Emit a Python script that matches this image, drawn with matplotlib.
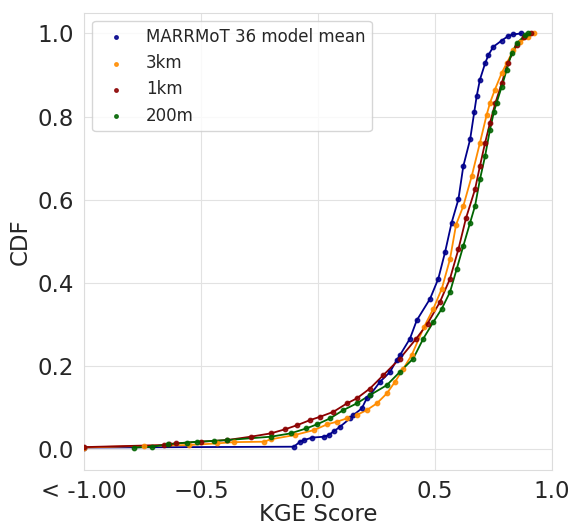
import numpy as np
import matplotlib
matplotlib.use('Agg')
import matplotlib.pyplot as plt
import seaborn as sns

sns.set_style('whitegrid', {'grid.color': '#e2e2e2', 'axes.edgecolor': '#dcdcdc'})
plt.rcParams['font.family'] = ['DejaVu Sans']

# KGE values (values below -1 shown at -1) and their CDF levels
mean_kge = [-1.0, -0.103, -0.077, -0.060, -0.024, 0.026, 0.045, 0.070, 0.094, 0.137, 0.151,
            0.187, 0.208, 0.222, 0.265, 0.308, 0.336, 0.350, 0.393, 0.422, 0.479, 0.514,
            0.543, 0.571, 0.600, 0.621, 0.650, 0.668, 0.678, 0.692, 0.714, 0.728, 0.749,
            0.785, 0.813, 0.835, 0.869]
mean_cdf = [0.004, 0.006, 0.018, 0.022, 0.028, 0.030, 0.034, 0.044, 0.054, 0.074, 0.082,
            0.098, 0.122, 0.130, 0.162, 0.186, 0.214, 0.226, 0.266, 0.310, 0.362, 0.410,
            0.474, 0.545, 0.601, 0.681, 0.745, 0.812, 0.849, 0.889, 0.928, 0.948, 0.968,
            0.983, 0.994, 0.998, 1.0]

km3_kge = [-1.0, -0.744, -0.55, -0.43, -0.359, -0.231, -0.20, -0.10, -0.017, 0.04, 0.08,
           0.123, 0.165, 0.208, 0.251, 0.294, 0.329, 0.365, 0.400, 0.453, 0.493, 0.529,
           0.564, 0.590, 0.621, 0.657, 0.692, 0.721, 0.735, 0.756, 0.785, 0.806, 0.835,
           0.863, 0.899, 0.921]
km3_cdf = [0.004, 0.008, 0.010, 0.014, 0.017, 0.018, 0.024, 0.034, 0.046, 0.060, 0.066,
           0.074, 0.082, 0.094, 0.110, 0.134, 0.162, 0.194, 0.226, 0.294, 0.338, 0.386,
           0.457, 0.540, 0.585, 0.657, 0.737, 0.805, 0.833, 0.865, 0.905, 0.928, 0.960,
           0.980, 0.992, 1.0]

km1_kge = [-1.0, -0.658, -0.637, -0.608, -0.50, -0.388, -0.288, -0.202, -0.14, -0.088,
           -0.034, 0.009, 0.066, 0.123, 0.165, 0.222, 0.279, 0.350, 0.420, 0.468, 0.521,
           0.564, 0.600, 0.632, 0.671, 0.692, 0.714, 0.735, 0.758, 0.785, 0.810, 0.849,
           0.880, 0.910]
km1_cdf = [0.005, 0.010, 0.012, 0.014, 0.018, 0.022, 0.030, 0.038, 0.048, 0.058,
           0.070, 0.078, 0.090, 0.110, 0.122, 0.146, 0.178, 0.218, 0.266, 0.302, 0.354,
           0.410, 0.481, 0.555, 0.625, 0.681, 0.737, 0.785, 0.833, 0.880, 0.928, 0.972,
           0.992, 1.0]

m200_kge = [-0.786, -0.708, -0.64, -0.559, -0.516, -0.444, -0.388, -0.202, -0.117, -0.05,
            -0.003, 0.051, 0.108, 0.165, 0.222, 0.294, 0.350, 0.407, 0.450, 0.493, 0.529,
            0.564, 0.593, 0.621, 0.650, 0.671, 0.692, 0.714, 0.735, 0.752, 0.763, 0.785,
            0.806, 0.827, 0.849, 0.885, 0.899]
m200_cdf = [0.004, 0.006, 0.012, 0.016, 0.018, 0.020, 0.022, 0.030, 0.038, 0.050,
            0.060, 0.074, 0.094, 0.110, 0.130, 0.154, 0.186, 0.218, 0.266, 0.306, 0.338,
            0.378, 0.434, 0.489, 0.545, 0.585, 0.649, 0.705, 0.769, 0.812, 0.833, 0.872,
            0.912, 0.952, 0.976, 0.996, 1.0]

series = [
    ('MARRMoT 36 model mean', mean_kge, mean_cdf, 'darkblue'),
    ('3km', km3_kge, km3_cdf, 'darkorange'),
    ('1km', km1_kge, km1_cdf, 'darkred'),
    ('200m', m200_kge, m200_cdf, 'darkgreen'),
]

fig = plt.figure(figsize=(5.74, 5.25), dpi=100)
ax = fig.add_axes([0.1463, 0.1048, 0.8154, 0.871])

for name, x, y, c in series:
    ax.plot(x, y, color=c, linewidth=1.3)
    ax.scatter(x, y, s=10, color=c, label=name, zorder=3, alpha=0.85)

ax.set_xlim(-1, 1)
ax.set_ylim(-0.05, 1.05)
ax.set_xticks([-1.0, -0.5, 0.0, 0.5, 1.0])
ax.set_xticklabels(['< -1.00', '\u22120.5', '0.0', '0.5', '1.0'])
ax.set_yticks(np.arange(0, 1.01, 0.2))
ax.tick_params(labelsize=16.5)
ax.set_xlabel('KGE Score', fontsize=16.5, labelpad=0)
ax.set_ylabel('CDF', fontsize=16.5)
ax.legend(loc='upper left', fontsize=12, markerscale=0.8)

fig.savefig('out.png', dpi=100)
